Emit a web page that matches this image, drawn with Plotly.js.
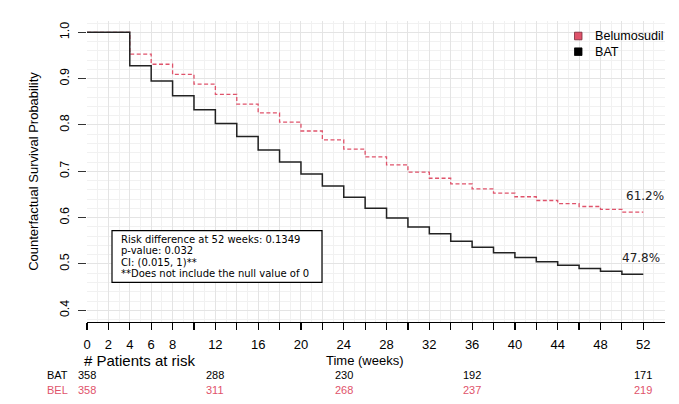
<!DOCTYPE html>
<html>
<head>
<meta charset="utf-8">
<script src="https://cdn.plot.ly/plotly-3.0.1.min.js"></script>
<style>html,body{margin:0;padding:0;background:#fff;}#chart{width:679px;height:404px;}</style>
</head>
<body>
<div id="chart"></div>
<script>
// ---- data ----
const seriesNames = ['Belumosudil', 'BAT'];
const weeks = [0, 4, 6, 8, 10, 12, 14, 16, 18, 20, 22, 24, 26, 28, 30, 32, 34, 36, 38, 40, 42, 44, 46, 48, 50, 52];
const batSurv = [1.0, 0.928, 0.895, 0.863, 0.833, 0.803, 0.775, 0.746, 0.720, 0.694, 0.668, 0.644, 0.620, 0.599, 0.580, 0.565, 0.549, 0.536, 0.524, 0.514, 0.505, 0.497, 0.490, 0.484, 0.478, 0.478];
const belSurv = [1.0, 0.953, 0.931, 0.909, 0.888, 0.866, 0.845, 0.826, 0.806, 0.787, 0.768, 0.748, 0.731, 0.714, 0.698, 0.685, 0.673, 0.662, 0.653, 0.645, 0.637, 0.630, 0.624, 0.618, 0.612, 0.612];
const riskTimes = [0, 12, 24, 36, 52];
const batRisk = [358, 288, 230, 192, 171];
const belRisk = [358, 311, 268, 237, 219];
const riskLabels = ['BAT', 'BEL'];
const xTickVals = [0, 2, 4, 6, 8, 10, 12, 14, 16, 18, 20, 22, 24, 26, 28, 30, 32, 34, 36, 38, 40, 42, 44, 46, 48, 50, 52];
const xTickText = ['0', '2', '4', '6', '8', '', '12', '', '16', '', '20', '', '24', '', '28', '', '32', '', '36', '', '40', '', '44', '', '48', '', '52'];
const yTickVals = [0.4, 0.5, 0.6, 0.7, 0.8, 0.9, 1.0];
const yTickText = ['0.4', '0.5', '0.6', '0.7', '0.8', '0.9', '1.0'];
const boxLines = [
  'Risk difference at 52 weeks: 0.1349',
  'p-value: 0.032',
  'CI: (0.015, 1)**',
  '**Does not include the null value of 0'
];

// ---- styles ----
const PINK = '#DF536B';
const BLACK = '#222222';
const SANS = 'Liberation Sans, Arial, sans-serif';
const VER = 'DejaVu Sans, Verdana, sans-serif';

const traces = [
  {
    x: weeks, y: belSurv, type: 'scatter', mode: 'lines', name: seriesNames[0],
    line: {shape: 'hv', color: PINK, width: 1.3, dash: '4px,2.5px'}, showlegend: false, hoverinfo: 'skip'
  },
  {
    x: weeks, y: batSurv, type: 'scatter', mode: 'lines', name: seriesNames[1],
    line: {shape: 'hv', color: BLACK, width: 1.5}, showlegend: false, hoverinfo: 'skip'
  }
];

// paper helpers (plot area: 87..665 x, 21..322 y)
const L = 87, R = 665, T = 21, B = 322;
const px = v => (v - L) / (R - L);
const py = v => (B - v) / (B - T);

const annotations = [];
const shapes = [];

// end labels
annotations.push({x: weeks[weeks.length - 1], y: belSurv[belSurv.length - 1], xref: 'x', yref: 'y',
  text: (belSurv[belSurv.length - 1] * 100).toFixed(1) + '%', showarrow: false, xanchor: 'center', yanchor: 'middle',
  yshift: 16, xshift: 2, font: {family: VER, size: 12, color: '#222'}});
annotations.push({x: weeks[weeks.length - 1], y: batSurv[batSurv.length - 1], xref: 'x', yref: 'y',
  text: (batSurv[batSurv.length - 1] * 100).toFixed(1) + '%', showarrow: false, xanchor: 'center', yanchor: 'middle',
  yshift: 16, xshift: -2, font: {family: VER, size: 12, color: '#222'}});

// info box
shapes.push({type: 'rect', xref: 'paper', yref: 'paper', x0: px(112), x1: px(322), y0: py(282.3), y1: py(230.7),
  line: {color: '#000', width: 1.2}, fillcolor: '#fff', layer: 'above'});
const lineY = [239.3, 250.7, 262, 273.3];
boxLines.forEach((t, i) => {
  annotations.push({x: px(118.5), y: py(lineY[i]), xref: 'paper', yref: 'paper', text: t, showarrow: false,
    xanchor: 'left', yanchor: 'middle', font: {family: VER, size: 10, color: '#000'}});
});

// legend
const legColors = [PINK, '#000'];
const legY = [36, 51.7];
seriesNames.forEach((n, i) => {
  shapes.push({type: 'rect', xref: 'paper', yref: 'paper', x0: px(574.5), x1: px(582), y0: py(legY[i] + 3.8), y1: py(legY[i] - 3.8),
    line: {color: i === 0 ? '#7a2a38' : '#000', width: 0.8}, fillcolor: legColors[i]});
  annotations.push({x: px(593), y: py(legY[i]), xref: 'paper', yref: 'paper', text: n, showarrow: false,
    xanchor: 'left', yanchor: 'middle', font: {family: SANS, size: 12.6, color: '#000'}});
});

// axis texts
annotations.push({x: px(81.5), y: py(360), xref: 'paper', yref: 'paper', text: '# Patients at risk', showarrow: false,
  xanchor: 'left', yanchor: 'middle', font: {family: SANS, size: 15, color: '#000'}});
annotations.push({x: 26, y: py(360), xref: 'x', yref: 'paper', text: 'Time (weeks)', showarrow: false,
  xanchor: 'center', yanchor: 'middle', font: {family: SANS, size: 13, color: '#000'}});

// risk table
const riskRows = [batRisk, belRisk];
const riskColors = ['#000', PINK];
const rowY = [375, 390];
riskRows.forEach((row, r) => {
  annotations.push({x: px(45), y: py(rowY[r]), xref: 'paper', yref: 'paper', text: riskLabels[r], showarrow: false,
    xanchor: 'left', yanchor: 'middle', font: {family: SANS, size: 11, color: riskColors[r]}});
  row.forEach((v, j) => {
    annotations.push({x: riskTimes[j], y: py(rowY[r]), xref: 'x', yref: 'paper', text: String(v), showarrow: false,
      xanchor: 'center', yanchor: 'middle', font: {family: SANS, size: 11, color: riskColors[r]}});
  });
});

const layout = {
  width: 679, height: 404,
  margin: {l: L, r: 679 - R, t: T, b: 404 - B, pad: 0},
  paper_bgcolor: '#fff', plot_bgcolor: '#fff',
  showlegend: false,
  xaxis: {
    range: [0, 54.03], tickmode: 'array', tickvals: xTickVals, ticktext: xTickText,
    ticks: 'outside', ticklen: 7, tickwidth: 1.2, tickcolor: '#000',
    showline: true, linecolor: '#000', linewidth: 1.4,
    showgrid: true, gridcolor: '#e4e4e4', gridwidth: 1, zeroline: false,
    tickfont: {family: SANS, size: 13, color: '#000'}, ticklabelstandoff: 3,
    minor: {dtick: 1, tick0: 0, showgrid: true, gridcolor: '#f1f1f1', gridwidth: 1, ticks: ''}
  },
  yaxis: {
    range: [0.3747, 1.0244], tickmode: 'array', tickvals: yTickVals, ticktext: yTickText, tickangle: -90,
    ticks: 'outside', ticklen: 8, tickwidth: 1, tickcolor: '#333',
    showline: false, showgrid: true, gridcolor: '#e4e4e4', gridwidth: 1, zeroline: false,
    tickfont: {family: SANS, size: 12.5, color: '#000'}, ticklabelstandoff: 4,
    minor: {dtick: 0.02, tick0: 0, showgrid: true, gridcolor: '#f1f1f1', gridwidth: 1, ticks: ''},
    title: {text: 'Counterfactual Survival Probability', font: {family: SANS, size: 13, color: '#000'}, standoff: 16}
  },
  annotations: annotations,
  shapes: shapes
};

Plotly.newPlot('chart', traces, layout, {displayModeBar: false, staticPlot: true});
</script>
</body>
</html>
